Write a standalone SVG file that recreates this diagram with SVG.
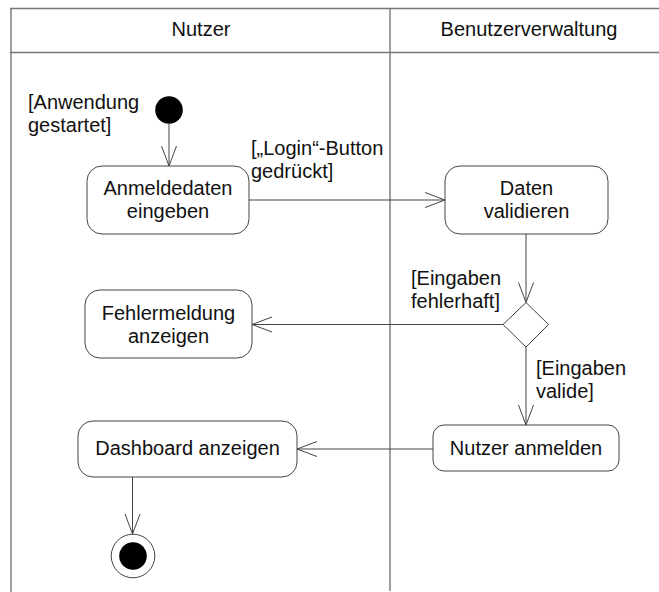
<svg xmlns="http://www.w3.org/2000/svg" width="659" height="592" viewBox="0 0 659 592">
  <style>
    text { font-family: "Liberation Sans", Arial, sans-serif; font-size: 20px; fill: #111; }
    .c { text-anchor: middle; }
    .lane { fill: none; stroke: #777; stroke-width: 1.4; }
    .act { fill: #fff; stroke: #444; stroke-width: 1; }
    .flow { fill: none; stroke: #444; stroke-width: 1; marker-end: url(#open); }
  </style>
  <defs>
    <marker id="open" markerUnits="userSpaceOnUse" viewBox="-22 -10 24 20" refX="0" refY="0" markerWidth="24" markerHeight="20" orient="auto" overflow="visible">
      <path d="M -20 -7.5 L 0 0 L -20 7.5" fill="none" stroke="#444" stroke-width="1"/>
    </marker>
  </defs>

  <rect width="659" height="592" fill="#fff"/>

  <!-- swimlane frame -->
  <g id="swimlanes">
    <line class="lane" x1="11" y1="8" x2="11" y2="592" stroke-width="2"/>
    <line class="lane" x1="10" y1="8.5" x2="659" y2="8.5"/>
    <line class="lane" x1="10" y1="52.5" x2="659" y2="52.5"/>
    <line class="lane" x1="390" y1="8" x2="390" y2="591"/>
    <text class="c" x="201" y="36">Nutzer</text>
    <text class="c" x="529" y="36">Benutzerverwaltung</text>
  </g>

  <!-- connectors -->
  <g id="connectors">
    <line class="flow" x1="169" y1="124" x2="169" y2="166"/>
    <line class="flow" x1="249" y1="200" x2="445" y2="200"/>
    <line class="flow" x1="526" y1="234" x2="526" y2="302.5"/>
    <line class="flow" x1="503" y1="324.5" x2="252" y2="324.5"/>
    <line class="flow" x1="526" y1="347" x2="526" y2="425"/>
    <line class="flow" x1="433" y1="449" x2="297" y2="449"/>
    <line class="flow" x1="132.5" y1="477" x2="132.5" y2="534"/>
    <text x="28" y="109">[Anwendung</text>
    <text x="28" y="132">gestartet]</text>
    <text x="251" y="155">[„Login“-Button</text>
    <text x="251" y="178">gedrückt]</text>
    <text x="411" y="285">[Eingaben</text>
    <text x="411" y="308">fehlerhaft]</text>
    <text x="536" y="375">[Eingaben</text>
    <text x="536" y="398">valide]</text>
  </g>

  <g id="start">
    <circle cx="169" cy="110" r="13.8" fill="#000"/>
  </g>

  <g id="anmeldedaten-eingeben">
    <rect class="act" x="87" y="166" width="162" height="68" rx="15"/>
    <text class="c" x="168" y="195">Anmeldedaten</text>
    <text class="c" x="168" y="218">eingeben</text>
  </g>

  <g id="daten-validieren">
    <rect class="act" x="445" y="166" width="163" height="68" rx="15"/>
    <text class="c" x="526.5" y="194.5">Daten</text>
    <text class="c" x="526.5" y="218">validieren</text>
  </g>

  <g id="entscheidung">
    <path class="act" d="M 526 302.5 L 548.5 324.5 L 526 347 L 503 324.5 Z"/>
  </g>

  <g id="fehlermeldung-anzeigen">
    <rect class="act" x="85" y="290" width="167" height="68" rx="15"/>
    <text class="c" x="168.5" y="320">Fehlermeldung</text>
    <text class="c" x="168.5" y="343">anzeigen</text>
  </g>

  <g id="nutzer-anmelden">
    <rect class="act" x="433" y="425" width="186" height="46" rx="11"/>
    <text class="c" x="526" y="455">Nutzer anmelden</text>
  </g>

  <g id="dashboard-anzeigen">
    <rect class="act" x="78" y="421" width="219" height="56" rx="15"/>
    <text class="c" x="187.5" y="455">Dashboard anzeigen</text>
  </g>

  <g id="ende">
    <circle cx="133" cy="556" r="21.8" fill="#fff" stroke="#444" stroke-width="1"/>
    <circle cx="133" cy="556" r="13.8" fill="#000"/>
  </g>
</svg>
